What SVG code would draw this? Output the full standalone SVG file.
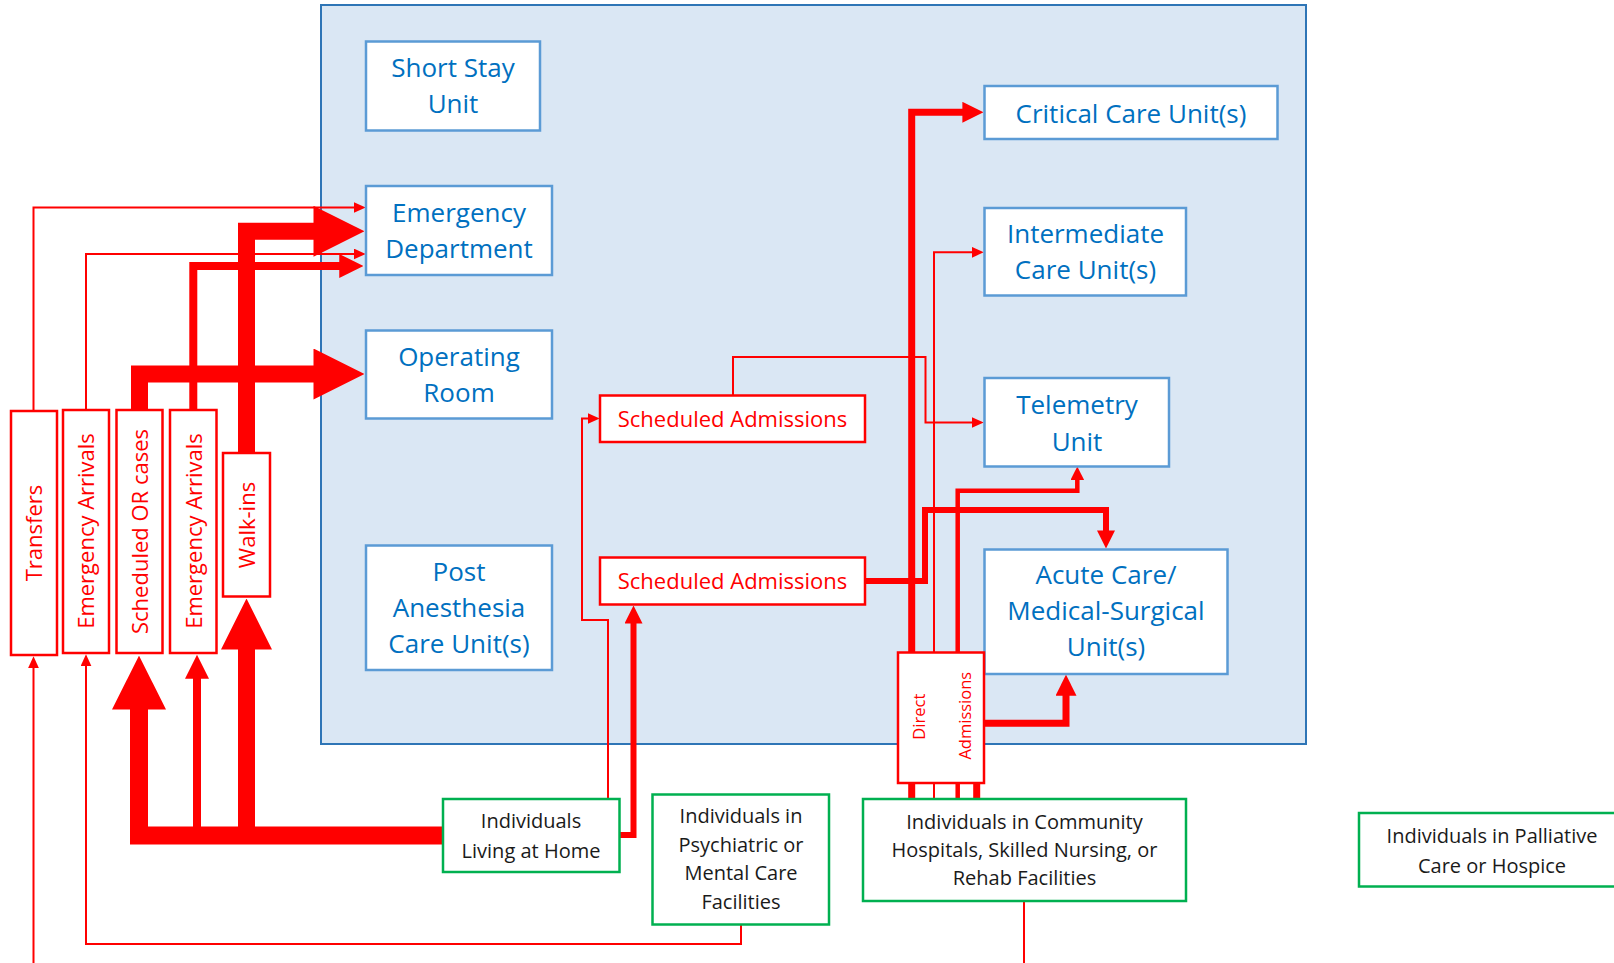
<svg xmlns="http://www.w3.org/2000/svg" width="1614" height="963" viewBox="0 0 1614 963">
<style>
.bg{fill:#FFFFFF}
.hosp{fill:#DAE7F4;stroke:#2E75B6;stroke-width:2}
.unit{fill:#FFFFFF;stroke:#5B9BD5;stroke-width:2.5}
.src{fill:#FFFFFF;stroke:#FF0000;stroke-width:2.5}
.home{fill:#FFFFFF;stroke:#00B050;stroke-width:2.5}
.tb{font-family:"Open Sans","Noto Sans","Liberation Sans",sans-serif;font-size:26px;fill:#0070C0;text-anchor:middle}
.tr{font-family:"Open Sans","Noto Sans","Liberation Sans",sans-serif;font-size:22px;fill:#FF0000;text-anchor:middle}
.td{font-family:"Open Sans","Noto Sans","Liberation Sans",sans-serif;font-size:16.5px;fill:#FF0000;text-anchor:middle}
.tk{font-family:"Open Sans","Noto Sans","Liberation Sans",sans-serif;font-size:20px;fill:#1A1A1A;text-anchor:middle}
.c{fill:none;stroke:#FF0000;stroke-linejoin:miter;stroke-linecap:butt}
.w2{stroke-width:2;marker-end:url(#as)}
.w2n{stroke-width:2}
.wf{marker-end:url(#ah)}
</style>
<defs>
<marker id="ah" viewBox="0 0 10 10" refX="0.3" refY="5" markerWidth="3" markerHeight="3" orient="auto" markerUnits="strokeWidth"><path d="M0,0 L10,5 L0,10 Z" fill="#FF0000"/></marker>
<marker id="as" viewBox="0 0 12 11" refX="0.3" refY="5.5" markerWidth="6" markerHeight="5.5" orient="auto" markerUnits="strokeWidth"><path d="M0,0 L12,5.5 L0,11 Z" fill="#FF0000"/></marker>
</defs>
<rect class="bg" x="0" y="0" width="1614" height="963"/>
<g id="hospital"><rect class="hosp" x="321" y="5" width="985" height="739"/></g>
<g id="connectors">
<path class="c w2" d="M33.5,963 V668"/>
<path class="c w2" d="M33.5,411 V207.5 H354"/>
<path class="c w2" d="M741,925 V944 H86 V666"/>
<path class="c w2" d="M86,410 V254 H354"/>
<path class="c wf" stroke-width="18" d="M443,835.5 H139 V708"/>
<path class="c wf" stroke-width="8" d="M197,836 V678"/>
<path class="c wf" stroke-width="17" d="M246.5,836 V648"/>
<path class="c wf" stroke-width="17" d="M139.5,410 V374 H315"/>
<path class="c wf" stroke-width="8" d="M193.3,410 V266 H340"/>
<path class="c wf" stroke-width="17" d="M246.5,453 V231.3 H315"/>
<path class="c w2" d="M608,799 V620 H582 V418.5 H588"/>
<path class="c w2" d="M733,395 V357 H925.5 V422.5 H972"/>
<path class="c wf" stroke-width="6" d="M619,835 H633.5 V623"/>
<path class="c wf" stroke-width="6" d="M865,581 H925 V510 H1106 V531"/>
<path class="c wf" stroke-width="7" d="M911.7,799 V112.3 H963"/>
<path class="c w2" d="M934,799 V252.3 H972"/>
<path class="c wf" stroke-width="4.5" d="M957.7,799 V490.7 H1077.3 V479.5"/>
<path class="c wf" stroke-width="7" d="M976.7,799 V723.3 H1066 V695"/>
<path class="c w2n" d="M1024,901 V963"/>
</g>
<g id="short-stay"><rect class="unit" x="366" y="41.5" width="174" height="89"/><text class="tb" x="453" y="77.3">Short Stay</text><text class="tb" x="453" y="113.3">Unit</text></g>
<g id="emergency-department"><rect class="unit" x="366" y="186" width="186" height="89"/><text class="tb" x="459" y="221.5">Emergency</text><text class="tb" x="459" y="257.5">Department</text></g>
<g id="operating-room"><rect class="unit" x="366" y="330.5" width="186" height="88"/><text class="tb" x="459" y="366">Operating</text><text class="tb" x="459" y="402">Room</text></g>
<g id="pacu"><rect class="unit" x="366" y="545.5" width="186" height="124.5"/><text class="tb" x="459" y="581">Post</text><text class="tb" x="459" y="617">Anesthesia</text><text class="tb" x="459" y="653">Care Unit(s)</text></g>
<g id="critical-care"><rect class="unit" x="984.5" y="86" width="293" height="53"/><text class="tb" x="1131" y="122.5">Critical Care Unit(s)</text></g>
<g id="intermediate-care"><rect class="unit" x="984.5" y="208" width="201.5" height="87.5"/><text class="tb" x="1085.5" y="243.3">Intermediate</text><text class="tb" x="1085.5" y="279.3">Care Unit(s)</text></g>
<g id="telemetry"><rect class="unit" x="984.5" y="378" width="184.5" height="88.5"/><text class="tb" x="1077" y="414.3">Telemetry</text><text class="tb" x="1077" y="450.7">Unit</text></g>
<g id="acute-care"><rect class="unit" x="984.5" y="549.5" width="243" height="124.5"/><text class="tb" x="1106" y="584">Acute Care/</text><text class="tb" x="1106" y="620">Medical-Surgical</text><text class="tb" x="1106" y="655.7">Unit(s)</text></g>
<g id="scheduled-admissions-1"><rect class="src" x="600" y="395.5" width="265" height="46.5"/><text class="tr" x="732.5" y="427.3">Scheduled Admissions</text></g>
<g id="scheduled-admissions-2"><rect class="src" x="600" y="557.5" width="265" height="47"/><text class="tr" x="732.5" y="589.3">Scheduled Admissions</text></g>
<g id="transfers"><rect class="src" x="11" y="411" width="46" height="244"/><text class="tr" transform="translate(42,533) rotate(-90)">Transfers</text></g>
<g id="emergency-arrivals-1"><rect class="src" x="63" y="410" width="46" height="243"/><text class="tr" transform="translate(94,531) rotate(-90)">Emergency Arrivals</text></g>
<g id="scheduled-or"><rect class="src" x="116.5" y="410" width="46" height="243"/><text class="tr" transform="translate(147.5,531.5) rotate(-90)">Scheduled OR cases</text></g>
<g id="emergency-arrivals-2"><rect class="src" x="170" y="410" width="46.5" height="243"/><text class="tr" transform="translate(201.5,531) rotate(-90)">Emergency Arrivals</text></g>
<g id="walk-ins"><rect class="src" x="223" y="453" width="47" height="143.5"/><text class="tr" transform="translate(254.5,525) rotate(-90)">Walk-ins</text></g>
<g id="direct-admissions"><rect class="src" x="898" y="652.5" width="86" height="130.5"/><text class="td" transform="translate(925,716.7) rotate(-90)">Direct</text><text class="td" transform="translate(971,715.7) rotate(-90)">Admissions</text></g>
<g id="living-at-home"><rect class="home" x="443" y="799" width="176.5" height="73"/><text class="tk" x="531" y="828.3">Individuals</text><text class="tk" x="531" y="857.5">Living at Home</text></g>
<g id="psychiatric"><rect class="home" x="652.5" y="794.5" width="176.5" height="130"/><text class="tk" x="741" y="823">Individuals in</text><text class="tk" x="741" y="852">Psychiatric or</text><text class="tk" x="741" y="880">Mental Care</text><text class="tk" x="741" y="909">Facilities</text></g>
<g id="community"><rect class="home" x="863" y="799" width="323" height="102"/><text class="tk" x="1024.5" y="829">Individuals in Community</text><text class="tk" x="1024.5" y="857.3">Hospitals, Skilled Nursing, or</text><text class="tk" x="1024.5" y="885">Rehab Facilities</text></g>
<g id="palliative"><rect class="home" x="1359" y="813" width="268" height="73.5"/><text class="tk" x="1492" y="843.3">Individuals in Palliative</text><text class="tk" x="1492" y="872.7">Care or Hospice</text></g>
</svg>
